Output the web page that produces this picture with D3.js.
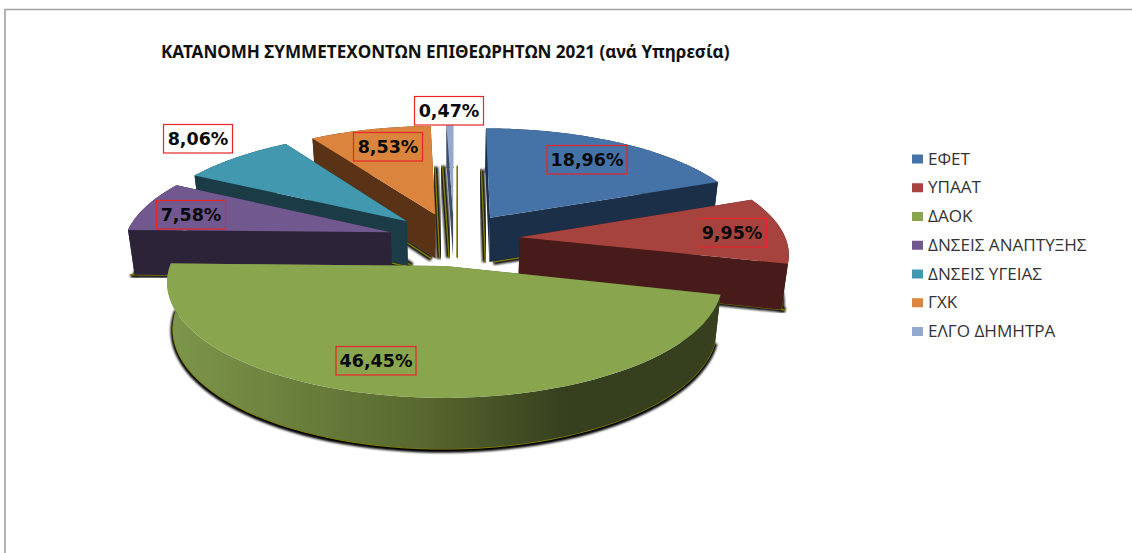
<!DOCTYPE html>
<html>
<head>
    <title>Κατανομή συμμετεχόντων επιθεωρητών 2021</title>
    <meta charset="utf-8">
    <script src="https://d3js.org/d3.v7.min.js"></script>
    <style>
        html, body { margin: 0; background: #fff; }
        svg { display: block; }
    </style>
</head>
<body>
<div class="chart-area"></div>
<script type="text/javascript">
    var services = ['ΕΦΕΤ', 'ΥΠΑΑΤ', 'ΔΑΟΚ', 'ΔΝΣΕΙΣ ΑΝΑΠΤΥΞΗΣ', 'ΔΝΣΕΙΣ ΥΓΕΙΑΣ', 'ΓΧΚ', 'ΕΛΓΟ ΔΗΜΗΤΡΑ'];
    var shares = [18.96, 9.95, 46.45, 7.58, 8.06, 8.53, 0.47];
    var title = 'ΚΑΤΑΝΟΜΗ ΣΥΜΜΕΤΕΧΟΝΤΩΝ ΕΠΙΘΕΩΡΗΤΩΝ 2021 (ανά Υπηρεσία)';

    var topColors = ['#4572a7', '#a6433f', '#89a54e', '#71588f', '#4198af', '#db843d', '#93a9cf'];
    var sideColors = ['#1c2f48', '#471b1a', 'url(#greenSide)', '#2d2339', '#1b3c47', '#5a3317', '#3d4c68'];

    var width = 1132, height = 553;

    // pie geometry: ground plane seen in perspective
    var cx = 454, cy = 239, radius = 266, explode = 66, tilt = 0.40, camera = 2000, depth = 46;

    // label box centres (px)
    var labelAt = [[587, 160], [732, 233], [376, 361], [191, 215], [198, 139], [388, 147], [449, 111]];

    var svg = d3.select('.chart-area')
        .append('svg')
        .attr('width', width)
        .attr('height', height);

    var defs = svg.append('defs');
    defs.append('filter').attr('id', 'soft')
        .attr('x', '-10%').attr('y', '-10%').attr('width', '120%').attr('height', '120%')
        .append('feGaussianBlur').attr('stdDeviation', 1);

    var grad = defs.append('linearGradient')
        .attr('id', 'greenSide')
        .attr('gradientUnits', 'userSpaceOnUse')
        .attr('x1', 170).attr('x2', 720).attr('y1', 0).attr('y2', 0);
    grad.append('stop').attr('offset', '0%').attr('stop-color', '#7d964a');
    grad.append('stop').attr('offset', '45%').attr('stop-color', '#59692f');
    grad.append('stop').attr('offset', '72%').attr('stop-color', '#363f1e');
    grad.append('stop').attr('offset', '100%').attr('stop-color', '#363f1e');

    // frame
    svg.append('path')
        .attr('d', 'M5,' + height + 'V9.5H' + width)
        .attr('fill', 'none')
        .attr('stroke', '#a0a0a0')
        .attr('stroke-width', 1.6);

    svg.append('text')
        .attr('x', 161)
        .attr('y', 58)
        .attr('font-family', 'Noto Sans')
        .attr('font-weight', 'bold')
        .attr('font-size', 17.1)
        .attr('fill', '#111')
        .text(title);

    var pie = d3.pie().sort(null);
    var slices = pie(shares);

    // ground point -> screen; z = 0 is top face, z = 1 the base
    function project(X, Y, z) {
        var s = camera / (camera + Y) * (1 - 0.02 * z);
        return [cx + X * s, cy - tilt * Y * s + depth * z * s];
    }

    function apex(d) {
        var mid = (d.startAngle + d.endAngle) / 2;
        return [explode * Math.sin(mid), explode * Math.cos(mid)];
    }

    function rim(d, a, z) {
        var o = apex(d);
        return project(o[0] + radius * Math.sin(a), o[1] + radius * Math.cos(a), z);
    }

    function arcAngles(d) {
        return d3.range(0, 61).map(function (i) {
            return d.startAngle + (d.endAngle - d.startAngle) * i / 60;
        });
    }

    function sector(d, z) {
        var o = apex(d);
        return [project(o[0], o[1], z)].concat(arcAngles(d).map(function (a) { return rim(d, a, z); }));
    }

    var poly = d3.line().curve(d3.curveLinearClosed);
    var open = d3.line();

    // radial edge of the base, pushed sideways out of its slice
    function baseEdge(d, a, shift, low) {
        var o = apex(d), foot = project(o[0], o[1], low), p = rim(d, a, low);
        return [[foot[0] + shift, foot[1]], [p[0] + shift, p[1]]];
    }

    function baseArc(d, low) {
        return arcAngles(d).map(function (a) { return rim(d, a, low); });
    }

    // blurred dark edge first, the olive line on top of it
    var base = svg.append('g');
    slices.forEach(function (d) {
        base.append('path').attr('d', open(baseArc(d, 1.03)))
            .attr('fill', 'none').attr('stroke', '#000').attr('stroke-width', 5)
            .attr('filter', 'url(#soft)');
        [[d.startAngle, -4], [d.endAngle, 4]].forEach(function (e) {
            base.append('path').attr('d', open(baseEdge(d, e[0], e[1], 1)))
                .attr('fill', 'none').attr('stroke', '#111').attr('stroke-width', 6)
                .attr('filter', 'url(#soft)');
        });
    });
    slices.forEach(function (d) {
        base.append('path').attr('d', open(baseArc(d, 1.005)))
            .attr('fill', 'none').attr('stroke', '#7d7a00').attr('stroke-width', 1.2);
        [[d.startAngle, -4], [d.endAngle, 4]].forEach(function (e) {
            base.append('path').attr('d', open(baseEdge(d, e[0], e[1], 1)))
                .attr('fill', 'none').attr('stroke', '#7d7a00').attr('stroke-width', 1.6);
        });
    });

    // painter order, back to front
    var order = [0, 6, 5, 4, 3, 1, 2];
    var pieGroup = svg.append('g');
    order.forEach(function (i) {
        var d = slices[i];
        var o = apex(d);
        var g = pieGroup.append('g');
        [d.startAngle, d.endAngle].forEach(function (a) {
            g.append('path')
                .attr('d', poly([project(o[0], o[1], 0), rim(d, a, 0), rim(d, a, 1), project(o[0], o[1], 1)]))
                .attr('fill', sideColors[i]);
        });
        var angles = arcAngles(d);
        g.append('path')
            .attr('d', poly(angles.map(function (a) { return rim(d, a, 0); })
                .concat(angles.slice().reverse().map(function (a) { return rim(d, a, 1); }))))
            .attr('fill', sideColors[i]);
        g.append('path')
            .attr('d', poly(sector(d, 0)))
            .attr('fill', topColors[i]);
    });

    // data labels with red box
    var labels = svg.append('g');
    shares.forEach(function (v, i) {
        var text = v.toFixed(2).replace('.', ',') + '%';
        var w = text.length > 5 ? 80 : 69;
        labels.append('rect')
            .attr('x', labelAt[i][0] - w / 2)
            .attr('y', labelAt[i][1] - 14.5)
            .attr('width', w)
            .attr('height', 28.5)
            .attr('fill', 'none')
            .attr('stroke', '#e8262a')
            .attr('stroke-width', 1.2);
        labels.append('text')
            .attr('x', labelAt[i][0])
            .attr('y', labelAt[i][1] + 6)
            .attr('text-anchor', 'middle')
            .attr('font-family', 'DejaVu Sans')
            .attr('font-weight', 'bold')
            .attr('font-size', 17.5)
            .attr('fill', '#0a0a0a')
            .text(text);
    });

    // legend
    var legendY = d3.scalePoint().domain(services).range([158.5, 331]);
    var legend = svg.append('g').selectAll('g')
        .data(services)
        .enter()
        .append('g')
        .attr('transform', function (d) { return 'translate(912,' + legendY(d) + ')'; });
    legend.append('rect')
        .attr('x', 0).attr('y', -4).attr('width', 11).attr('height', 9)
        .attr('fill', function (d, i) { return topColors[i]; });
    legend.append('text')
        .attr('x', 16)
        .attr('y', 6)
        .attr('font-family', 'Open Sans')
        .attr('font-size', 17.1)
        .attr('fill', '#333')
        .text(function (d) { return d; });
</script>
</body>
</html>
